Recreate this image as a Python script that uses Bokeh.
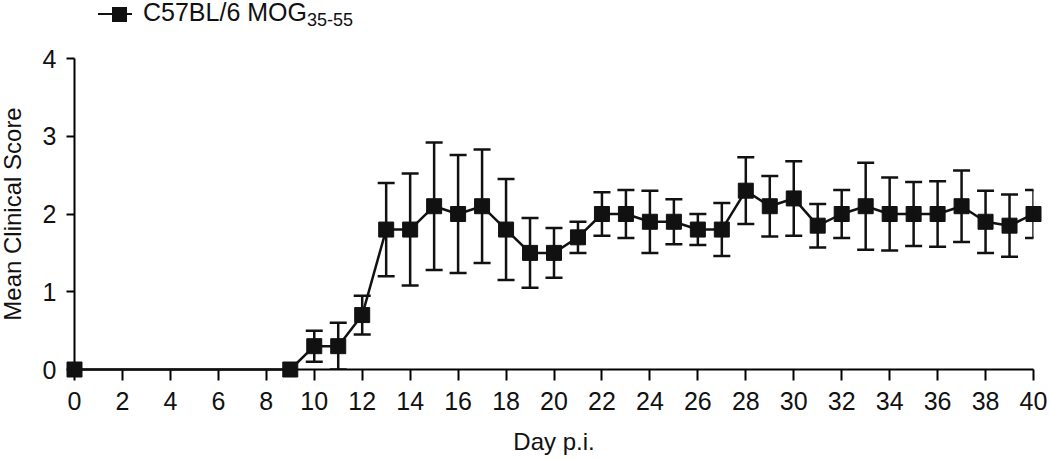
from bokeh.plotting import figure
from bokeh.layouts import column
from bokeh.models import (ColumnDataSource, Range1d, FixedTicker, Whisker, TeeHead, Div)
from bokeh.embed import file_html
from bokeh.resources import INLINE

# ---- data ----
days = [0, 9, 10, 11, 12, 13, 14, 15, 16, 17, 18, 19, 20, 21, 22, 23, 24, 25,
        26, 27, 28, 29, 30, 31, 32, 33, 34, 35, 36, 37, 38, 39, 40]
mean_score = [0.0, 0.0, 0.3, 0.3, 0.7, 1.8, 1.8, 2.1, 2.0, 2.1, 1.8, 1.5, 1.5, 1.7,
              2.0, 2.0, 1.9, 1.9, 1.8, 1.8, 2.3, 2.1, 2.2, 1.85, 2.0, 2.1, 2.0,
              2.0, 2.0, 2.1, 1.9, 1.85, 2.0]
sem_score = [0.0, 0.0, 0.2, 0.3, 0.25, 0.6, 0.72, 0.82, 0.76, 0.73, 0.65, 0.45,
             0.32, 0.2, 0.28, 0.31, 0.4, 0.29, 0.2, 0.34, 0.43, 0.39, 0.48, 0.28,
             0.31, 0.56, 0.47, 0.41, 0.42, 0.46, 0.4, 0.4, 0.31]
x_ticks = [0, 2, 4, 6, 8, 10, 12, 14, 16, 18, 20, 22, 24, 26, 28, 30, 32, 34, 36, 38, 40]
y_ticks = [0, 1, 2, 3, 4]
series_name = "C57BL/6 MOG"
series_sub = "35-55"

FONT = "Liberation Sans"
INK = "#111111"

src = ColumnDataSource(data=dict(day=days, mean=mean_score))
err_idx = [i for i, s in enumerate(sem_score) if s > 0]
err_src = ColumnDataSource(data=dict(
    day=[days[i] for i in err_idx],
    upper=[mean_score[i] + sem_score[i] for i in err_idx],
    lower=[max(0.0, mean_score[i] - sem_score[i]) for i in err_idx],
))

# ---- legend strip (HTML so the subscript stays real text) ----
legend_html = (
    '<div style="position:relative;width:1050px;height:44px;'
    "font-family:'Liberation Sans',Arial,sans-serif;color:#111111;\">"
    '<div style="position:absolute;left:98px;top:12.75px;width:34px;height:2.5px;'
    'background:#111111;"></div>'
    '<div style="position:absolute;left:111.5px;top:6.5px;width:15px;height:15px;'
    'background:#111111;"></div>'
    '<div style="position:absolute;left:143px;top:0px;font-size:25px;line-height:25px;'
    'white-space:nowrap;">' + series_name +
    '<span style="font-size:18px;vertical-align:-4.5px;">' + series_sub + '</span></div>'
    '</div>'
)
legend = Div(text=legend_html, width=1050, height=44, margin=0)

# ---- main chart ----
p = figure(frame_width=964, frame_height=311,
           x_range=Range1d(0, 40), y_range=Range1d(0, 4),
           output_backend="svg", toolbar_location=None,
           min_border_left=0, min_border_right=13,
           min_border_top=14, min_border_bottom=0)
p.styles = {"margin-left": "-5px"}
p.outline_line_color = None
p.xgrid.visible = False
p.ygrid.visible = False
p.background_fill_color = "white"
p.border_fill_color = "white"

for ax in (p.xaxis[0], p.yaxis[0]):
    ax.axis_line_width = 2
    ax.axis_line_color = "black"
    ax.major_tick_line_width = 2
    ax.major_tick_line_color = "black"
    ax.major_tick_in = 0
    ax.minor_tick_line_color = None
    ax.major_label_text_font = FONT
    ax.major_label_text_font_size = "25px"
    ax.major_label_text_color = "#111111"
    ax.axis_label_text_font = FONT
    ax.axis_label_text_font_size = "24px"
    ax.axis_label_text_font_style = "normal"
    ax.axis_label_text_color = "#111111"

p.xaxis[0].ticker = FixedTicker(ticks=x_ticks)
p.yaxis[0].ticker = FixedTicker(ticks=y_ticks)
p.xaxis[0].major_tick_out = 11
p.yaxis[0].major_tick_out = 8
p.xaxis[0].major_label_standoff = 11
p.yaxis[0].major_label_standoff = 10
p.xaxis[0].axis_label = "Day p.i."
p.yaxis[0].axis_label = "Mean Clinical Score"
p.xaxis[0].axis_label_standoff = 15
p.yaxis[0].axis_label_standoff = 14

line_r = p.line("day", "mean", source=src, line_color=INK, line_width=2.5)
line_r.level = "overlay"

wh = Whisker(source=err_src, base="day", upper="upper", lower="lower",
             line_color=INK, line_width=2.5,
             upper_head=TeeHead(size=17, line_color=INK, line_width=2.5),
             lower_head=TeeHead(size=17, line_color=INK, line_width=2.5),
             level="overlay")
p.add_layout(wh)

sc = p.scatter("day", "mean", source=src, marker="square", size=15,
               fill_color=INK, line_color=INK)
sc.level = "overlay"

layout = column(legend, p, spacing=0)
open("out.html", "w").write(file_html(layout, INLINE))
